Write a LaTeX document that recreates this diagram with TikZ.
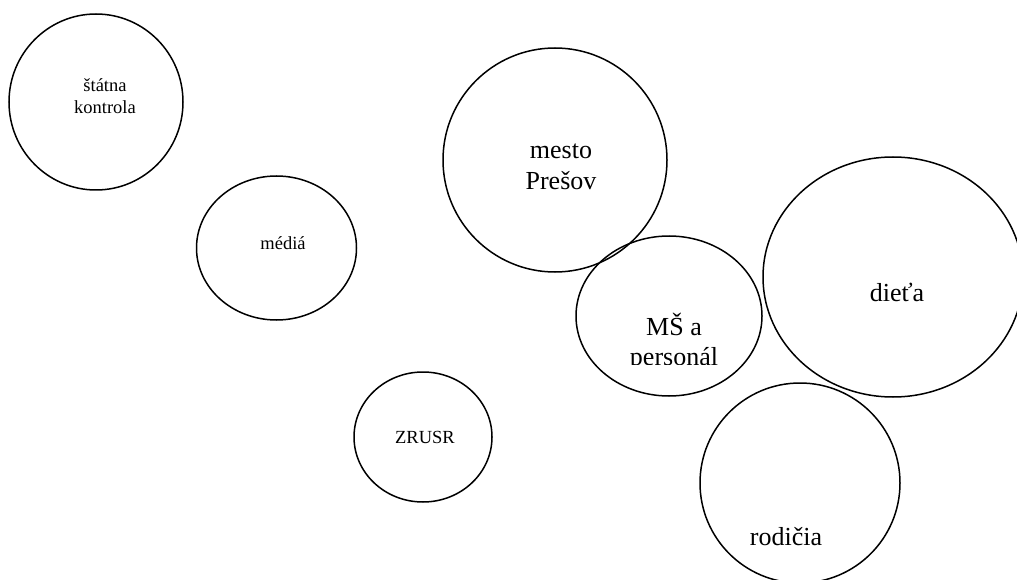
\documentclass[tikz,border=0pt]{standalone}
\usepackage{fontspec}
\setmainfont{Liberation Serif}
\begin{document}
\begin{tikzpicture}[x=1pt,y=-1pt,
  bubble/.style={line width=1.5pt},
  small/.style={align=center,font=\fontsize{18.5}{22}\selectfont,inner sep=0pt},
  large/.style={align=center,font=\fontsize{26}{30.5}\selectfont,inner sep=0pt}]
  \useasboundingbox (0,0) rectangle (1017,580);

  \draw[bubble] (96,102) ellipse (87pt and 88pt);
  \draw[bubble] (276.5,248) ellipse (80pt and 72pt);
  \draw[bubble] (555,160) ellipse (112pt and 112pt);
  \draw[bubble] (669,316) ellipse (93pt and 80pt);
  \draw[bubble] (893,277) ellipse (130pt and 120pt);
  \draw[bubble] (423,437) ellipse (69pt and 65pt);
  \draw[bubble] (800,483) ellipse (100pt and 100pt);

  \node[small] (kontrola) at (105,96) {štátna\\kontrola};
  \node[small] (media) at (283,243) {médiá};
  \node[large] (mesto) at (561,167) {mesto\\Prešov};
  \begin{scope}
    \clip (560,300) rectangle (780,364);
    \node[large] (ms) at (674,342) {MŠ a\\personál};
  \end{scope}
  \node[large] (dieta) at (897,292) {dieťa};
  \node[small] (zrusr) at (425,437) {ZRUSR};
  \node[large] (rodicia) at (786,537) {rodičia};
\end{tikzpicture}
\end{document}
